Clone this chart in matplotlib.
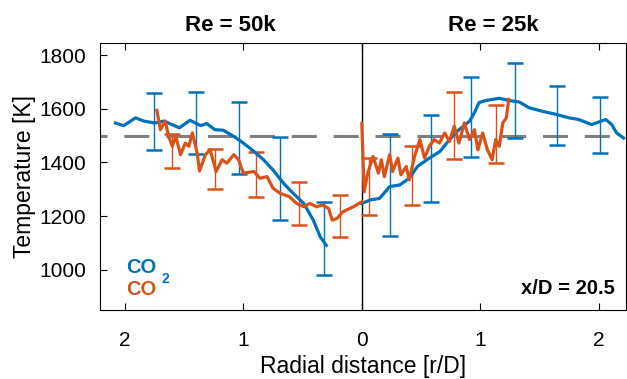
import numpy as np
import matplotlib.pyplot as plt

plt.rcParams['font.family'] = ['Liberation Sans', 'DejaVu Sans']

BLUE = '#0072BD'
ORANGE = '#D95319'

# Re = 50k side (plotted at negative r/D)
co2_r_50k = [2.08, 2.01, 1.91, 1.84, 1.75, 1.67, 1.54, 1.45, 1.36, 1.31, 1.24, 1.17,
             1.08, 1.00, 0.91, 0.83, 0.75, 0.66, 0.58, 0.49, 0.41, 0.35, 0.30]
co2_T_50k = [1547, 1537, 1566, 1554, 1547, 1554, 1529, 1557, 1537, 1545, 1522, 1520,
             1497, 1472, 1441, 1410, 1372, 1322, 1285, 1247, 1185, 1122, 1091]

co_r_50k = [1.73, 1.70, 1.66, 1.63, 1.60, 1.57, 1.53, 1.49, 1.46, 1.43, 1.39, 1.37,
            1.32, 1.28, 1.23, 1.18, 1.14, 1.08, 1.04, 1.00, 0.91, 0.86, 0.80, 0.75,
            0.69, 0.61, 0.55, 0.49, 0.44, 0.38, 0.33, 0.28, 0.25, 0.21, 0.16, 0.07, 0.0]
co_T_50k = [1594, 1522, 1554, 1497, 1460, 1497, 1429, 1472, 1460, 1510, 1435, 1368,
            1429, 1447, 1366, 1410, 1397, 1429, 1410, 1360, 1366, 1341, 1347, 1304,
            1285, 1272, 1247, 1235, 1247, 1235, 1241, 1228, 1185, 1191, 1216, 1235, 1253]

# Re = 25k side (positive r/D)
co2_r_25k = [0.0, 0.07, 0.15, 0.235, 0.32, 0.40, 0.47, 0.57, 0.66, 0.74, 0.82, 0.91,
             0.95, 0.99, 1.05, 1.16, 1.24, 1.33, 1.41, 1.52, 1.64, 1.75, 1.83, 1.94,
             2.06, 2.11, 2.15, 2.21]
co2_T_25k = [1247, 1260, 1266, 1310, 1316, 1341, 1385, 1416, 1441, 1485, 1522, 1554,
             1585, 1623, 1631, 1639, 1631, 1625, 1604, 1591, 1579, 1566, 1560, 1541,
             1560, 1541, 1510, 1491]

co_r_25k = [0.0, 0.02, 0.05, 0.095, 0.14, 0.165, 0.19, 0.235, 0.26, 0.305, 0.33, 0.375,
            0.40, 0.445, 0.49, 0.53, 0.57, 0.61, 0.655, 0.70, 0.74, 0.78, 0.82, 0.865,
            0.91, 0.95, 0.98, 1.02, 1.06, 1.10, 1.13, 1.16, 1.19, 1.22, 1.24]
co_T_25k = [1545, 1290, 1360, 1422, 1360, 1410, 1347, 1429, 1366, 1416, 1354, 1385,
            1335, 1422, 1485, 1416, 1460, 1485, 1472, 1510, 1478, 1535, 1472, 1547,
            1485, 1522, 1447, 1510, 1447, 1410, 1485, 1460, 1547, 1566, 1635]

# error bars: position, lower, upper
co2_err_r = [-1.75, -1.40, -1.04, -0.69, -0.32, 0.235, 0.58, 0.92, 1.29, 1.65, 2.01]
co2_err_lo = [1447, 1431, 1356, 1185, 981, 1125, 1251, 1422, 1491, 1465, 1435]
co2_err_hi = [1660, 1662, 1626, 1495, 1253, 1506, 1575, 1720, 1769, 1685, 1645]

co_err_r = [-1.60, -1.24, -0.89, -0.53, -0.18, 0.06, 0.42, 0.78, 1.13]
co_err_lo = [1379, 1300, 1270, 1167, 1122, 1203, 1241, 1412, 1397]
co_err_hi = [1507, 1450, 1440, 1327, 1280, 1418, 1462, 1664, 1614]

T_ref = 1500
xticks = [-2, -1, 0, 1, 2]
xticklabels = ['2', '1', '0', '1', '2']
yticks = [1000, 1200, 1400, 1600, 1800]


def draw_errorbars(ax, r, lo, hi, color):
    lo = np.array(lo, dtype=float)
    hi = np.array(hi, dtype=float)
    mid = (lo + hi) / 2
    ax.errorbar(r, mid, yerr=[mid - lo, hi - mid], fmt='none', ecolor=color,
                elinewidth=1.0, capsize=6, capthick=1.8, zorder=2)


fig = plt.figure(figsize=(6.27, 3.79), dpi=100)
ax = fig.add_axes([100 / 627, 69 / 379, 526 / 627, 267 / 379])

ax.axhline(T_ref, color='#808080', lw=2.2, ls=(5.9, (8.2, 5.5)), zorder=1)
ax.axvline(0, color='black', lw=1.0, zorder=1)

draw_errorbars(ax, co2_err_r, co2_err_lo, co2_err_hi, BLUE)
draw_errorbars(ax, co_err_r, co_err_lo, co_err_hi, ORANGE)

ax.plot(-np.array(co2_r_50k), co2_T_50k, color=BLUE, lw=2.3, zorder=3)
ax.plot(co2_r_25k, co2_T_25k, color=BLUE, lw=2.3, zorder=3)
ax.plot(-np.array(co_r_50k), co_T_50k, color=ORANGE, lw=2.3, zorder=4)
ax.plot(co_r_25k, co_T_25k, color=ORANGE, lw=2.3, zorder=4)

ax.set_xlim(-2.21, 2.23)
ax.set_ylim(850, 1845)
ax.set_xticks(xticks)
ax.set_xticklabels(xticklabels)
ax.set_yticks(yticks)
ax.tick_params(direction='in', length=5, width=0.8, labelsize=15, top=True)
ax.tick_params(axis='x', pad=15)
ax.tick_params(axis='y', pad=10)
for s in ax.spines.values():
    s.set_linewidth(0.8)

ax.set_xlabel('Radial distance [r/D]', fontsize=16.5, labelpad=4)
ax.set_ylabel('Temperature [K]', fontsize=16.5, labelpad=2)

ax.text(-1.11, 1.025, 'Re = 50k', transform=ax.get_xaxis_transform(),
        ha='center', va='bottom', fontsize=16, fontweight='bold')
ax.text(1.11, 1.025, 'Re = 25k', transform=ax.get_xaxis_transform(),
        ha='center', va='bottom', fontsize=16, fontweight='bold')

ax.text(0.978, 0.045, 'x/D = 20.5', transform=ax.transAxes, ha='right',
        va='bottom', fontsize=14.5, fontweight='bold')

# species labels
ax.text(0.049, 0.139, 'CO', transform=ax.transAxes, color=BLUE,
        fontsize=14.5, fontweight='bold', va='baseline')
ax.text(0.116, 0.102, '2', transform=ax.transAxes, color=BLUE,
        fontsize=10, fontweight='bold', va='baseline')
ax.text(0.049, 0.056, 'CO', transform=ax.transAxes, color=ORANGE,
        fontsize=14.5, fontweight='bold', va='baseline')

fig.savefig('out.png', dpi=100)
